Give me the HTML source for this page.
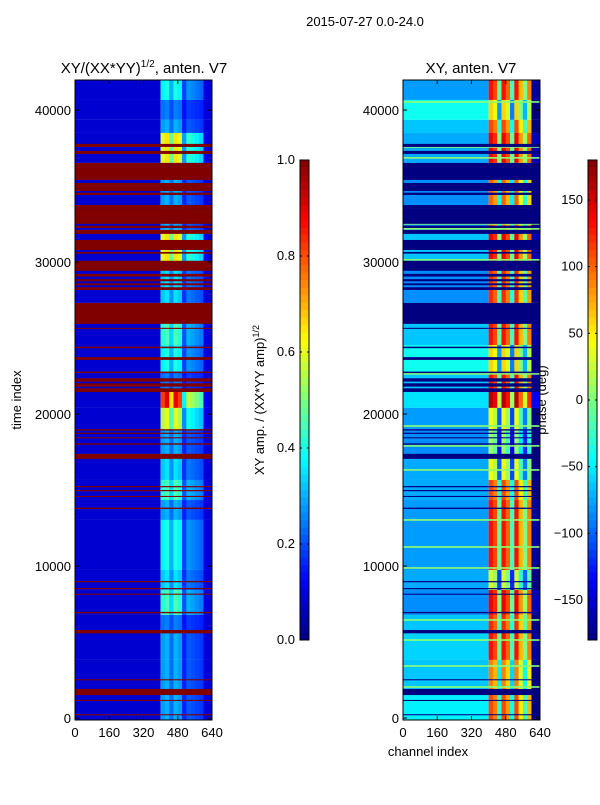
<!DOCTYPE html>
<html><head><meta charset="utf-8"><style>
body{margin:0;background:#fff}
svg{font-family:"Liberation Sans","DejaVu Sans",sans-serif}
</style></head><body>
<svg id="fig" width="600" height="800" xmlns="http://www.w3.org/2000/svg">
<rect width="600" height="800" fill="#fff"/>
<text x="365" y="26" font-size="13" text-anchor="middle">2015-07-27 0.0-24.0</text>
<text x="144" y="73" font-size="15" text-anchor="middle">XY/(XX*YY)<tspan font-size="10" dy="-6">1/2</tspan><tspan dy="6">, anten. V7</tspan></text>
<text x="471" y="73" font-size="15" text-anchor="middle">XY, anten. V7</text>
<text transform="translate(21,400) rotate(-90)" font-size="13" text-anchor="middle">time index</text>
<text x="428" y="756" font-size="13" text-anchor="middle">channel index</text>
<text transform="translate(264,400) rotate(-90)" font-size="13" text-anchor="middle">XY amp. / (XX*YY amp)<tspan font-size="9" dy="-5">1/2</tspan></text>
<text transform="translate(546,400) rotate(-90)" font-size="13" text-anchor="middle">phase (deg)</text>
<g id="left"></g>
<g id="right"></g>
<g id="axes"></g>
</svg>
<script>
// ---- data ----
const colBinsChan = [400,420,440,460,480,500,520,540,560,580,600,620];
const colWeight = [0.9,1,0.7,1,0.9,0.35,0.6,0.55,0.5,0.45,0.05,0.0];
const colPhaseOffset = [0,-20,-140,0,-30,-150,0,-60,-130,-40,-300,-300];
const segStart = [40660,39350,38490,36520,32110,30000,27310,24540,22770,21450,20400,18950,17370,15660,14340,13030,9740,8420,6780,5790,3820,1840,-130];
const segEnd   = [41980,40660,39350,38490,36520,32110,30000,27310,24540,22770,21450,20400,18950,17370,15660,14340,13030,9740,8420,6780,5790,3820,1840];
const segLeftAct = [0.4,0.25,0.3,0.65,0.3,0.65,0.35,0.45,0.4,0.25,0.9,0.6,0.3,0.35,0.45,0.3,0.4,0.35,0.45,0.25,0.3,0.3,0.3];
const segRightLow = [-80,-40,-65,-75,-85,-65,-85,-65,-40,-65,-55,-80,-85,-75,-75,-80,-80,-75,-85,-65,-60,-65,-50];
const segRightHigh = [130,60,110,140,100,140,120,130,60,130,160,40,10,40,110,130,130,30,140,120,130,90,110];
const flagStart = [37570,37110,35400,34670,34410,33490,32510,32240,31850,30790,30550,29420,29040,28730,28470,28160,25930,25600,24330,23560,22690,22130,21800,21450,18910,18690,18400,17980,17050,15180,14920,14540,13750,8930,8470,8110,6890,5570,2480,1510,1120,180];
const flagEnd   = [37770,37310,36520,35200,34560,33750,33490,32390,32110,31450,30660,30080,29220,28870,28600,28340,27310,25670,24430,23740,22790,22350,22020,21690,19000,18770,18470,18070,17380,15260,15000,14610,13840,9010,8550,8180,6980,5790,2550,1910,1190,250];
const greenLines = [40530,37570,36850,34940,32510,32180,30140,28230,22640,21580,19210,17900,16320,13030,11250,9870,6450,5130,3420,2040];
const xTicks = [0,160,320,480,640];
const yTicks = [0,10000,20000,30000,40000];
const ampTicks = [0.0,0.2,0.4,0.6,0.8,1.0];
const phaseTicks = [-150,-100,-50,0,50,100,150];

const NS="http://www.w3.org/2000/svg";
function jet(v){v=Math.max(0,Math.min(1,v));const c=x=>Math.round(255*Math.max(0,Math.min(1,1.5-Math.abs(x))));return `rgb(${c(4*v-3)},${c(4*v-2)},${c(4*v-1)})`;}
const PL={x0:75,x1:212}, PR={x0:403,x1:540};
const yScale=t=>718-(t)*0.0152;
const xS=(p,ch)=>p.x0+(ch/640)*(p.x1-p.x0);
function rect(g,x,y,w,h,fill,name){const r=document.createElementNS(NS,'rect');r.setAttribute('x',x);r.setAttribute('y',y);r.setAttribute('width',w);r.setAttribute('height',h);r.setAttribute('fill',fill);


g.appendChild(r);return r;}
function line(g,x1,y1,x2,y2,name,sw){const l=document.createElementNS(NS,'line');l.setAttribute('x1',x1);l.setAttribute('y1',y1);l.setAttribute('x2',x2);l.setAttribute('y2',y2);l.setAttribute('stroke','#000');l.setAttribute('stroke-width',sw||1);


g.appendChild(l);}
function text(g,x,y,s,anchor,name){const t=document.createElementNS(NS,'text');t.setAttribute('x',x);t.setAttribute('y',y);t.setAttribute('font-size','13');t.setAttribute('text-anchor',anchor);t.textContent=s;


g.appendChild(t);}
const pn=v=>(v+180)/360;
const L=document.getElementById('left'), R=document.getElementById('right'), A=document.getElementById('axes');
for(let i=0;i<segStart.length;i++){
  const yt=yScale(segEnd[i]), yb=yScale(segStart[i]), h=yb-yt;
  rect(L,PL.x0,yt,xS(PL,400)-PL.x0,h,jet(0.08),'left-cell');
  rect(R,PR.x0,yt,xS(PR,400)-PR.x0,h,jet(pn(segRightLow[i])),'right-cell');
  for(let j=0;j<colBinsChan.length;j++){
    const xa=xS(PL,colBinsChan[j]), w=xS(PL,colBinsChan[j]+20)-xa;
    const v=0.08+(segLeftAct[i]-0.08)*colWeight[j];
    rect(L,xa,yt,w+0.3,h,jet(v),'left-cell');
    const xb=xS(PR,colBinsChan[j]);
    const ph=Math.max(-180,Math.min(180,segRightHigh[i]+colPhaseOffset[j]));
    rect(R,xb,yt,w+0.3,h,jet(pn(ph)),'right-cell');
  }
}
for(let i=0;i<greenLines.length;i++){
  rect(R,PR.x0,yScale(greenLines[i])-0.8,PR.x1-PR.x0,1.6,jet(pn(5)),'right-green-row');
}
for(let i=0;i<flagStart.length;i++){
  const yt=yScale(flagEnd[i]), h=Math.max(1,yScale(flagStart[i])-yt);
  rect(L,PL.x0,yt,PL.x1-PL.x0,h,jet(1),'left-flag-band');
  rect(R,PR.x0,yt,PR.x1-PR.x0,h,jet(0),'right-flag-band');
}
[PL,PR].forEach((p,k)=>{
  const f=rect(A,p.x0,80,p.x1-p.x0,640,'none',k?'right-frame':'left-frame');f.setAttribute('stroke','#000');
  xTicks.forEach(v=>{const x=xS(p,v);line(A,x,720,x,716,'x-tick');line(A,x,80,x,84,'x-tick');text(A,x,737,String(v),'middle','x-tick-label');});
  yTicks.forEach(v=>{const y=yScale(v);line(A,p.x0,y,p.x0+4,y,'y-tick');line(A,p.x1,y,p.x1-4,y,'y-tick');text(A,p.x0-4,y+5,String(v),'end','y-tick-label');});
});
function cbar(x,ticks,toV,fmt,name){
  for(let k=0;k<64;k++){const y=640-(k+1)*7.5;rect(A,x,y,9,7.6,jet((k+0.5)/64),name+'-segment');}
  const f=rect(A,x,160,9,480,'none',name+'-frame');f.setAttribute('stroke','#000');
  ticks.forEach(v=>{const y=640-toV(v)*480;line(A,x,y,x+2,y,name+'-tick');line(A,x+9,y,x+7,y,name+'-tick');text(A,x-5,y+4,fmt(v),'end',name+'-tick-label');});
}
cbar(300,ampTicks,v=>v,v=>v.toFixed(1),'amp-colorbar');
cbar(588,phaseTicks,pn,v=>String(v).replace('-','\u2212'),'phase-colorbar');
</script>
</body></html>
